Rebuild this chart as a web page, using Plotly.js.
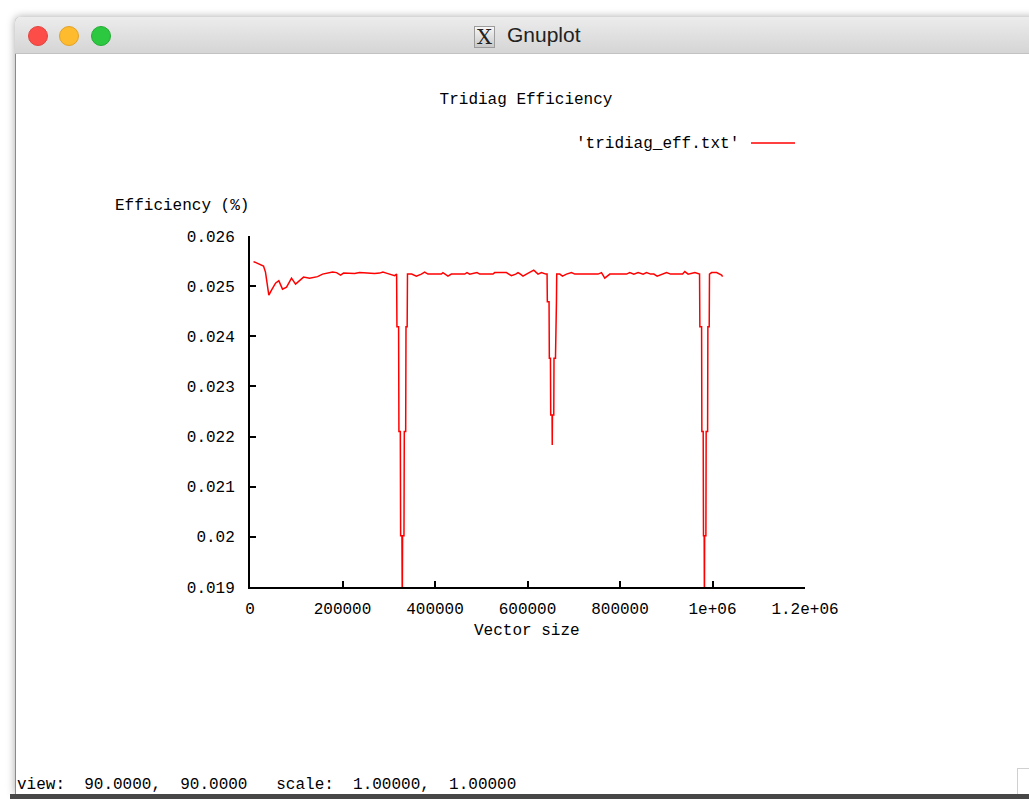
<!DOCTYPE html>
<html>
<head>
<meta charset="utf-8">
<script src="https://cdn.plot.ly/plotly-3.0.1.min.js"></script>
<style>
  html, body { margin:0; padding:0; width:1029px; height:799px; overflow:hidden; background:#ffffff; }
  #win { position:absolute; left:15px; top:17px; width:1020px; height:777px; background:#ffffff;
         box-shadow:0 0 9px rgba(0,0,0,0.35); border-left:1px solid #8a8a8a; border-top-left-radius:5px; }
  #titlebar { position:absolute; left:15px; top:17px; width:1020px; height:36px;
              background:linear-gradient(#ececec,#d5d5d5); border-bottom:1px solid #c2c2c2; border-top-left-radius:5px; }
  .light { position:absolute; width:20px; height:20px; border-radius:50%; top:26px; box-sizing:border-box; }
  #red { left:28px; background:#fc4d48; border:1px solid #e2443f; }
  #yel { left:59px; background:#fdbb2d; border:1px solid #e1a229; }
  #grn { left:91px; background:#2cc840; border:1px solid #23ab34; }
  #xicon { position:absolute; left:474px; top:26px; width:21px; height:22px; box-sizing:border-box;
           border:1px solid #9c9c9c; background:linear-gradient(#f6f6f6,#c9c9c9);
           font-family:"DejaVu Serif", serif; font-size:21px; line-height:20px; text-align:center; color:#222; }
  #wtitle { position:absolute; left:507px; top:23px; font-family:"Liberation Sans", Arial, sans-serif; font-size:21px; color:#222; }
  #status { position:absolute; left:17px; top:776px; font-family:"Liberation Mono", monospace; font-size:16px; color:#000; white-space:pre; }
  #bottom { position:absolute; left:10px; top:794px; width:1019px; height:5px; background:#474747; }
  #grip { position:absolute; left:1017px; top:768px; width:14px; height:25px; border-left:1px solid #d0d0d0; border-top:1px solid #d0d0d0; }
  #plot { position:absolute; left:0; top:0; width:1029px; height:799px; z-index:5; }
</style>
</head>
<body>
<div id="win"></div>
<div id="titlebar"></div>
<div class="light" id="red"></div>
<div class="light" id="yel"></div>
<div class="light" id="grn"></div>
<div id="xicon">X</div>
<div id="wtitle">Gnuplot</div>
<div id="status">view:  90.0000,  90.0000   scale:  1.00000,  1.00000</div>
<div id="grip"></div>
<div id="bottom"></div>
<div id="plot"></div>
<script>
// ---- data (vector size vs efficiency) ----
const rampSize = [7600, 29200, 33500, 40700, 46500, 55200, 62300, 70300, 79000, 89800, 98500, 107100, 115800, 128800, 137400, 146100, 156900, 167700, 178500, 187200, 195800, 202300, 215300, 226100, 236900, 254300, 269400, 280200, 287400, 294700, 301900, 312700, 317000];
const rampEff  = [0.02549, 0.02540, 0.02528, 0.02482, 0.02492, 0.02506, 0.02511, 0.02494, 0.02498, 0.02516, 0.02504, 0.02512, 0.02518, 0.02516, 0.02518, 0.02519, 0.02524, 0.02526, 0.02528, 0.02527, 0.02522, 0.02526, 0.02526, 0.02525, 0.02527, 0.02526, 0.02525, 0.02526, 0.02528, 0.02526, 0.02524, 0.02521, 0.02524];

const dip1Size = [317700, 321300, 322000, 325000, 325700, 328500, 329200, 329900, 332900, 333600, 336600, 337300, 339800, 340500];
const dip1Eff  = [0.02419, 0.02419, 0.02210, 0.02210, 0.02002, 0.02002, 0.01860, 0.02002, 0.02002, 0.02210, 0.02210, 0.02419, 0.02419, 0.02524];

const mid1Size = [349500, 359700, 370500, 377600, 384800, 413700, 417200, 428000, 435400, 464200, 469200, 475000, 490800, 496600, 525400, 529100, 554400, 565200, 574500, 579500, 584700, 590300, 597700, 604800, 613500, 622800, 630200, 639500, 642300];
const mid1Eff  = [0.02524, 0.02520, 0.02524, 0.02528, 0.02524, 0.02524, 0.02527, 0.02520, 0.02524, 0.02524, 0.02527, 0.02524, 0.02527, 0.02524, 0.02524, 0.02527, 0.02527, 0.02521, 0.02524, 0.02527, 0.02524, 0.02520, 0.02524, 0.02527, 0.02532, 0.02524, 0.02527, 0.02524, 0.02524];

const dip2Size = [642900, 646600, 647200, 649600, 650200, 653100, 653500, 653900, 656800, 657300, 660500, 661000, 662600, 663200];
const dip2Eff  = [0.02469, 0.02469, 0.02356, 0.02356, 0.02243, 0.02243, 0.02183, 0.02243, 0.02243, 0.02356, 0.02356, 0.02469, 0.02469, 0.02524];

const mid2Size = [669800, 675600, 684300, 695100, 702200, 752600, 760000, 767100, 778000, 814100, 821200, 829900, 839200, 850000, 857400, 866000, 873200, 880300, 889800, 900700, 909300, 935300, 940200, 947400, 961900, 969000, 972000];
const mid2Eff  = [0.02524, 0.02520, 0.02524, 0.02527, 0.02524, 0.02524, 0.02527, 0.02516, 0.02524, 0.02524, 0.02527, 0.02524, 0.02527, 0.02524, 0.02527, 0.02524, 0.02524, 0.02520, 0.02524, 0.02527, 0.02524, 0.02524, 0.02529, 0.02524, 0.02527, 0.02524, 0.02524];

const dip3Size = [972700, 976400, 977000, 979900, 980500, 982000, 982500, 983000, 985700, 986300, 989400, 990000, 992900, 993500];
const dip3Eff  = [0.02419, 0.02419, 0.02210, 0.02210, 0.02002, 0.02002, 0.01860, 0.02002, 0.02002, 0.02210, 0.02210, 0.02419, 0.02419, 0.02524];

const tailSize = [998000, 1008900, 1019700, 1021800];
const tailEff  = [0.02527, 0.02527, 0.02522, 0.02519];

const xTickVals  = [0, 200000, 400000, 600000, 800000, 1000000, 1200000];
const xTickText  = ['0', '200000', '400000', '600000', '800000', '1e+06', '1.2e+06'];
const yTickVals  = [0.019, 0.020, 0.021, 0.022, 0.023, 0.024, 0.025, 0.026];
const yTickText  = ['0.019', '0.02', '0.021', '0.022', '0.023', '0.024', '0.025', '0.026'];

const seriesName = "'tridiag_eff.txt'";
const chartTitle = 'Tridiag Efficiency';
const xLabel = 'Vector size';
const yLabel = 'Efficiency (%)';

// ---- build ----
const xs = [].concat(rampSize, dip1Size, mid1Size, dip2Size, mid2Size, dip3Size, tailSize);
const ys = [].concat(rampEff, dip1Eff, mid1Eff, dip2Eff, mid2Eff, dip3Eff, tailEff);

const FONT = 'Liberation Mono, DejaVu Sans Mono, monospace';
const W = 1029, H = 799;
const L = 250, R = 805, T = 236, B = 587;
const px = v => (v - L) / (R - L);
const py = v => (B - v) / (B - T);

const trace = {
  x: xs, y: ys, type: 'scatter', mode: 'lines', name: seriesName,
  line: { color: '#ff0000', width: 1.5 }, showlegend: false, hoverinfo: 'skip'
};

const axisCommon = {
  showline: true, linecolor: '#000', linewidth: 2, mirror: false,
  ticks: 'inside', ticklen: 6, tickwidth: 2, tickcolor: '#000',
  showgrid: false, zeroline: false, tickmode: 'array',
  tickfont: { family: FONT, size: 16, color: '#000' }
};

const layout = {
  width: W, height: H,
  margin: { l: L, r: W - R, t: T, b: H - B, pad: 0 },
  paper_bgcolor: 'rgba(0,0,0,0)', plot_bgcolor: 'rgba(0,0,0,0)',
  font: { family: FONT, size: 16, color: '#000' },
  title: { text: chartTitle, x: 526 / W, y: 1 - 98 / H, xref: 'container', yref: 'container',
           xanchor: 'center', yanchor: 'middle', font: { family: FONT, size: 16, color: '#000' } },
  xaxis: Object.assign({}, axisCommon, { range: [0, 1200000], tickvals: xTickVals, ticktext: xTickText, ticklabelstandoff: 6 }),
  yaxis: Object.assign({}, axisCommon, { range: [0.019, 0.026], tickvals: yTickVals, ticktext: yTickText, ticklabelstandoff: 10 }),
  showlegend: false,
  annotations: [
    { text: yLabel, xref: 'paper', yref: 'paper', x: px(182), y: py(206), xanchor: 'center', yanchor: 'middle', showarrow: false, font: { family: FONT, size: 16, color: '#000' } },
    { text: xLabel, xref: 'paper', yref: 'paper', x: px(527), y: py(631), xanchor: 'center', yanchor: 'middle', showarrow: false, font: { family: FONT, size: 16, color: '#000' } },
    { text: seriesName, xref: 'paper', yref: 'paper', x: px(741), y: py(144), xanchor: 'right', yanchor: 'middle', showarrow: false, font: { family: FONT, size: 16, color: '#000' } }
  ],
  shapes: [
    { type: 'line', xref: 'paper', yref: 'paper', x0: px(751), x1: px(795), y0: py(143), y1: py(143), line: { color: '#ff0000', width: 1.5 } }
  ]
};

Plotly.newPlot('plot', [trace], layout, { displayModeBar: false, staticPlot: true });
</script>
</body>
</html>
